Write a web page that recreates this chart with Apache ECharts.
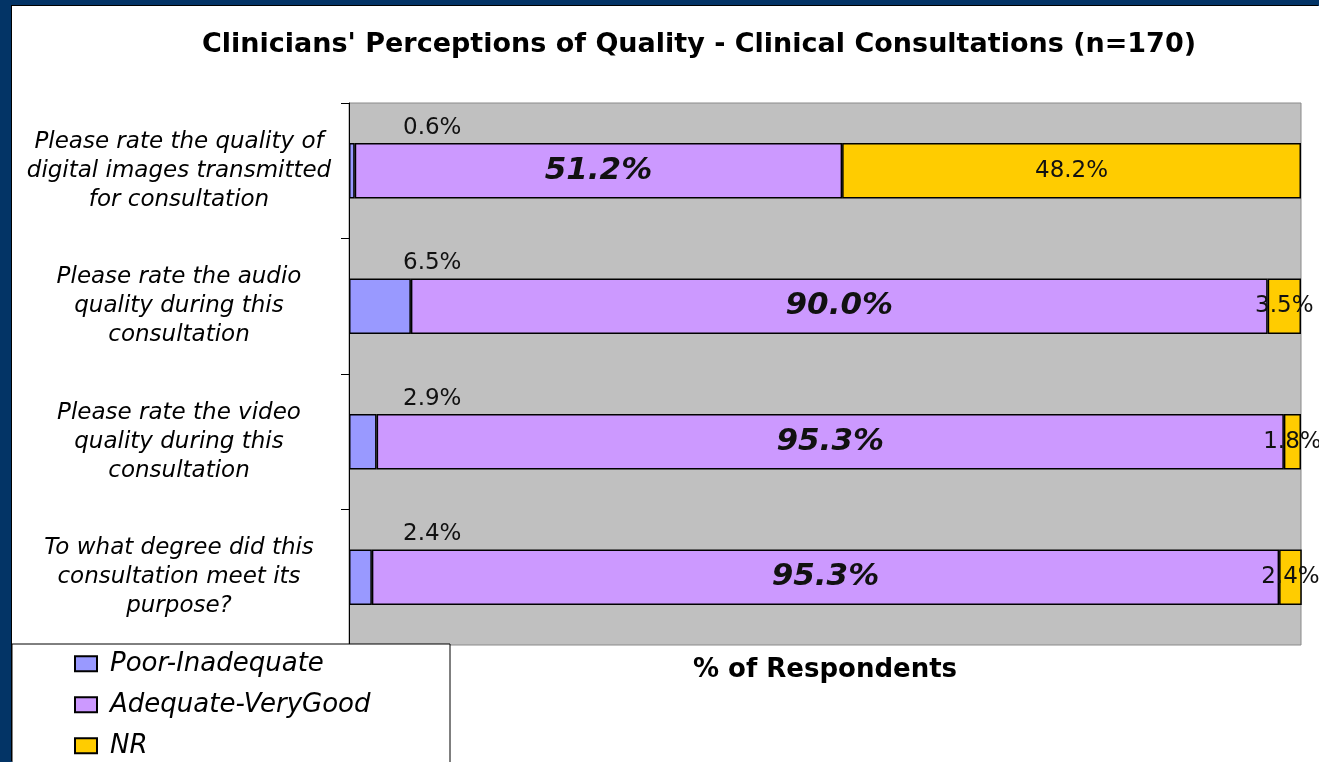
<html>
<head>
<title>Clinical Consultations</title>
<style type="text/css">
body{
	margin:0;
	background-color:#033466;
	overflow:hidden;
}
#chart{
	position:absolute;
	left:12px;
	top:6px;
	width:1307px;
	height:756px;
	background-color:white;
	box-shadow:-1px -1px 0 #000;
}
</style>
<script src="https://cdn.jsdelivr.net/npm/echarts@6/dist/echarts.min.js"></script>
</head>
<body>
<div id="chart"></div>
<script type="text/javascript">
// questions, top to bottom
var questions = [
	'Please rate the quality of\ndigital images transmitted\nfor consultation',
	'Please rate the audio\nquality during this\nconsultation',
	'Please rate the video\nquality during this\nconsultation',
	'To what degree did this\nconsultation meet its\npurpose?'
];
var seriesNames = ['Poor-Inadequate', 'Adequate-VeryGood', 'NR'];
var poor = [0.6, 6.5, 2.9, 2.4];
var adequate = [51.2, 90.0, 95.3, 95.3];
var nr = [48.2, 3.5, 1.8, 2.4];

var font = '"DejaVu Sans", Arial, sans-serif';
function pct(p){ return p.value.toFixed(1) + '%'; }

// one legend per row, stacked in the white box
function legendRow(i){
	return {
		left: 62,
		top: 632 + i * 41,
		padding: 0,
		itemWidth: 22,
		itemHeight: 15,
		icon: 'rect',
		textStyle: { fontSize: 26, fontStyle: 'italic', color: '#000', fontFamily: font, padding: [0, 0, 0, 8] },
		data: [seriesNames[i]]
	};
}

var myChart = echarts.init(document.getElementById('chart'));
var option = {
	animation: false,
	textStyle: { fontFamily: font },
	title: {
		text: "Clinicians' Perceptions of Quality - Clinical Consultations (n=170)",
		left: 682,
		textAlign: 'center',
		top: 5,
		textStyle: { fontSize: 27, fontWeight: 'bold', color: '#000', fontFamily: font }
	},
	graphic: [{
		type: 'rect',
		z: 3,
		shape: { x: 0, y: 638, width: 438, height: 130 },
		style: { fill: '#fff', stroke: '#000', lineWidth: 1 }
	}],
	legend: [legendRow(0), legendRow(1), legendRow(2)],
	grid: {
		left: 337,
		top: 97,
		width: 952,
		height: 542,
		show: true,
		backgroundColor: '#c0c0c0',
		borderColor: '#8a8a8a',
		borderWidth: 1
	},
	xAxis: {
		type: 'value',
		min: 0,
		max: 100,
		name: '% of Respondents',
		nameLocation: 'middle',
		nameGap: -2,
		nameTextStyle: { fontSize: 26, fontWeight: 'bold', color: '#000', fontFamily: font },
		axisLine: { show: false },
		axisTick: { show: false },
		axisLabel: { show: false },
		splitLine: { show: false }
	},
	yAxis: {
		type: 'category',
		inverse: true,
		data: questions,
		axisLine: { show: true, lineStyle: { color: '#000', width: 1 } },
		axisTick: { show: true, length: 8, lineStyle: { color: '#000' } },
		axisLabel: {
			margin: 170,
			align: 'center',
			fontSize: 23,
			lineHeight: 29,
			fontStyle: 'italic',
			color: '#000',
			fontFamily: font,
			padding: [6, 0, 0, 0]
		}
	},
	series: [{
		name: seriesNames[0],
		type: 'bar',
		stack: 'all',
		barWidth: '41%',
		itemStyle: { color: '#9999ff', borderColor: '#000', borderWidth: 1.5 },
		label: {
			show: true,
			position: [54, -38],
			formatter: pct,
			fontSize: 23,
			color: '#111',
			fontFamily: font
		},
		data: poor
	}, {
		name: seriesNames[1],
		type: 'bar',
		stack: 'all',
		itemStyle: { color: '#cc99ff', borderColor: '#000', borderWidth: 1.5 },
		label: {
			show: true,
			position: 'inside',
			formatter: pct,
			fontSize: 31,
			fontWeight: 'bold',
			fontStyle: 'italic',
			color: '#111',
			fontFamily: font
		},
		data: adequate
	}, {
		name: seriesNames[2],
		type: 'bar',
		stack: 'all',
		itemStyle: { color: '#ffcc00', borderColor: '#000', borderWidth: 1.5 },
		label: {
			show: true,
			position: 'inside',
			formatter: pct,
			fontSize: 23,
			color: '#111',
			fontFamily: font
		},
		data: nr
	}]
};
myChart.setOption(option);
</script>
</body>
</html>
